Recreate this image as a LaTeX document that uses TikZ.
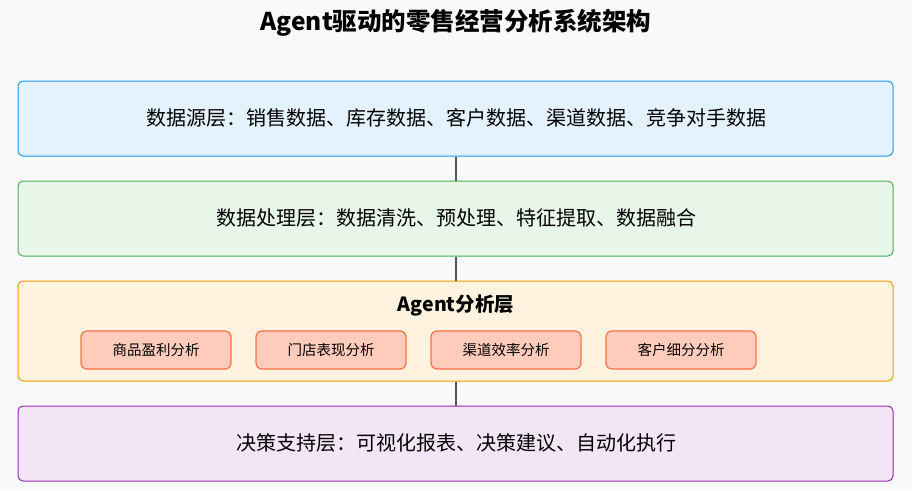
\documentclass[tikz,border=0pt]{standalone}
\usepackage{fontspec}
\setmainfont{Noto Sans CJK SC}
\definecolor{bgc}{HTML}{F8F9FA}
\definecolor{bluef}{HTML}{E3F2FD}\definecolor{blued}{HTML}{2196F3}
\definecolor{greenf}{HTML}{E8F5E9}\definecolor{greend}{HTML}{4CAF50}
\definecolor{orangef}{HTML}{FFF3E0}\definecolor{oranged}{HTML}{FF9800}
\definecolor{purplef}{HTML}{F3E5F5}\definecolor{purpled}{HTML}{9C27B0}
\definecolor{subf}{HTML}{FFCCBC}\definecolor{subd}{HTML}{FF7043}
\definecolor{linec}{HTML}{555555}
\tikzset{
  layer/.style={draw=#1, line width=1pt, rounded corners=5pt, minimum width=875pt, inner sep=0pt},
  subbox/.style={draw=subd, fill=subf, line width=1.2pt, rounded corners=6pt, minimum width=150pt, minimum height=38pt, inner sep=0pt, font=\fontsize{14.5}{16}\selectfont},
  conn/.style={draw=linec, line width=2pt},
  body/.style={font=\fontsize{20}{22}\selectfont}
}
\begin{document}
\begin{tikzpicture}[x=1pt,y=-1pt]
\fill[bgc] (0,0) rectangle (912,490);
\useasboundingbox (0,0) rectangle (912,490);
\node[font=\fontsize{24.5}{28}\selectfont\bfseries] (title) at (456,22.5) {Agent驱动的零售经营分析系统架构};
\node[layer=blued, fill=bluef, minimum height=75pt] (l1) at (455.5,118.5) {};
\node[body] (t1) at (456,118) {数据源层：销售数据、库存数据、客户数据、渠道数据、竞争对手数据};
\node[layer=greend, fill=greenf, minimum height=75pt] (l2) at (455.5,218.5) {};
\node[body] (t2) at (456,218) {数据处理层：数据清洗、预处理、特征提取、数据融合};
\node[layer=oranged, fill=orangef, minimum height=100pt] (l3) at (455.5,331) {};
\node[font=\fontsize{19.5}{22}\selectfont\bfseries] (t3) at (456,305) {Agent分析层};
\node[subbox] (s1) at (156,350) {商品盈利分析};
\node[subbox] (s2) at (331,350) {门店表现分析};
\node[subbox] (s3) at (506,350) {渠道效率分析};
\node[subbox] (s4) at (681,350) {客户细分分析};
\node[layer=purpled, fill=purplef, minimum height=75pt] (l4) at (455.5,443.5) {};
\node[body] (t4) at (456,443) {决策支持层：可视化报表、决策建议、自动化执行};
\draw[conn] (l1.south) -- (l2.north);
\draw[conn] (l2.south) -- (l3.north);
\draw[conn] (l3.south) -- (l4.north);
\end{tikzpicture}
\end{document}
